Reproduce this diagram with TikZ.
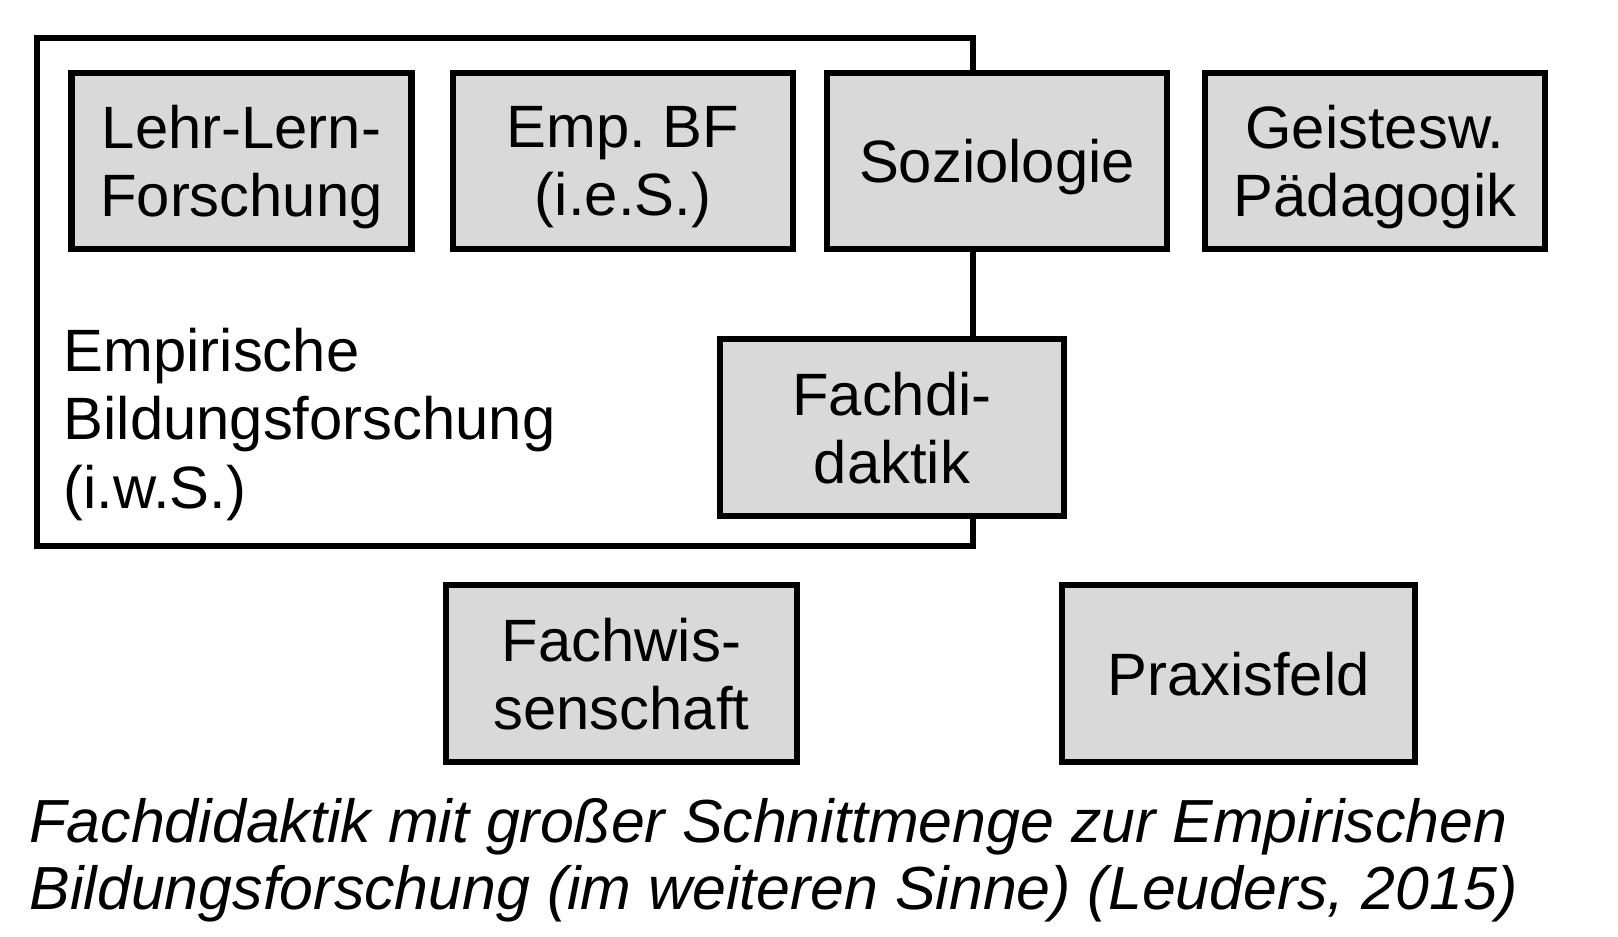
\documentclass[tikz,border=0pt]{standalone}
\usepackage{fontspec}
\setmainfont{Liberation Sans}
\frenchspacing
\usepackage{tikz}

\tikzset{
  feld/.style={draw=black, fill=black!15, line width=0.65mm, minimum width=3.4cm, minimum height=1.76cm,
    align=center, inner sep=0pt, text depth=0pt, font=\fontsize{17}{19.4}\selectfont},
  rahmen/.style={draw=black, line width=0.65mm},
}

\begin{document}
\begin{tikzpicture}[x=0.01cm, y=-0.01cm]
\useasboundingbox (0,0) rectangle (1618,936);

% Empirische Bildungsforschung (i.w.S.)
\draw[rahmen] (37,38) rectangle (973,546);

\node[feld] (lehr) at (241.5,161) {Lehr-Lern-\\Forschung};
\node[feld] (empbf) at (623,161) {Emp. BF\\(i.e.S.)};
\node[feld] (sozio) at (997,161) {Soziologie};
\node[feld] (geist) at (1375,161) {Geistesw.\\Pädagogik};

\node[feld, minimum width=3.44cm, minimum height=1.77cm] (fachdid) at (892,427.5) {Fachdi-\\daktik};
\node[feld, minimum width=3.51cm, minimum height=1.77cm] (fachwiss) at (621.5,673.5) {Fachwis-\\senschaft};
\node[feld, minimum width=3.53cm, minimum height=1.77cm] (praxis) at (1238.5,673.5) {Praxisfeld};

\node[anchor=north west, align=left, inner sep=0pt, font=\fontsize{17}{19.6}\selectfont] (ebf) at (63,327)
  {Empirische\\Bildungsforschung\\(i.w.S.)};

\node[anchor=north west, align=left, inner sep=0pt, font=\fontsize{17.3}{19}\selectfont\itshape] (quelle) at (29,798)
  {Fachdidaktik mit großer Schnittmenge zur Empirischen\\Bildungsforschung (im weiteren Sinne) (Leuders, 2015)};

\end{tikzpicture}
\end{document}
